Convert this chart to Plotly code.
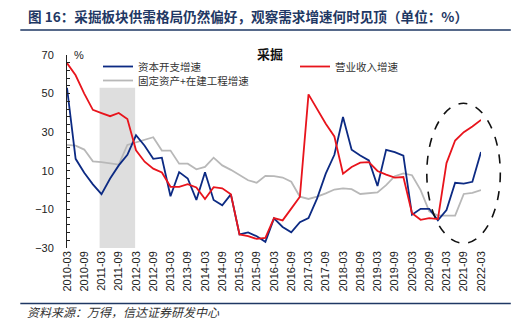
import plotly.graph_objects as go

# ---------------- data ----------------
quarters = [f"{y}-{m:02d}" for y in range(2010, 2023) for m in (3, 6, 9, 12)][:49]
tick_labels = quarters[::2]

capex_growth = [53.0, 16.2, 9.0, 3.0, -2.1, 6.0, 12.8, 18.3, 28.4, 23.0, 16.2, 16.8,
                -3.2, 9.3, 6.0, -5.1, 9.2, -5.1, -7.9, -2.2, -23.0, -21.9, -23.9, -26.8,
                -14.7, -19.1, -21.9, -16.6, -14.5, -4.3, 8.5, 18.3, 37.9, 20.9, 17.9, 15.4,
                2.1, 20.9, 19.7, 17.9, -12.8, -9.7, -9.7, -15.7, -10.3, 3.8, 3.4, 4.3, 19.7]

revenue_growth = [65.8, 59.5, 50.0, 41.6, 39.9, 38.3, 40.0, 36.8, 20.6, 14.7, 11.1, 9.1,
                  1.7, 1.7, 3.1, 1.4, -4.6, 1.5, 0.9, -2.2, -23.0, -23.9, -25.3, -24.8,
                  -14.5, -15.7, -9.6, -3.4, 49.6, 42.1, 34.4, 27.8, 8.5, 12.0, 14.2, 14.5,
                  9.9, 8.0, 6.5, 6.8, -12.0, -15.4, -14.5, -15.0, 14.0, 25.7, 30.0, 33.0, 36.4]

fixed_asset_growth = [23.4, 23.0, 21.0, 14.9, 14.5, 13.8, 13.2, 23.4, 24.8, 26.0, 27.4, 20.5,
                      20.5, 13.7, 13.7, 10.8, 12.0, 16.8, 12.8, 10.5, 7.7, 5.1, 3.8, 7.4,
                      7.2, 6.5, 4.3, -3.4, -4.6, -3.4, -1.7, 0.3, 0.9, 0.5, -2.0, -1.7,
                      -1.2, 2.6, 7.2, 8.7, 7.7, 0.0, -11.0, -13.2, -13.2, -13.2, -2.0, -1.4, 0.0]

# ---------------- layout geometry (px) ----------------
W, H = 528, 330
L, R, T, B = 66.7, 47.3, 54.5, 81.7
PW, PH = W - L - R, H - T - B


def px(xp):
    return (xp - L) / PW


def py(yp):
    return (H - B - yp) / PH


BLUE = "#0c2a83"
RED = "#e8141c"
GRAY = "#b8b8b8"
NAVY = "#1f3864"
LEGEND_FONT = dict(family="Noto Sans CJK SC", size=10.5, color="#333333")

fig = go.Figure()
fig.add_trace(go.Scatter(x=quarters, y=fixed_asset_growth, mode="lines", name="固定资产+在建工程增速",
                         line=dict(color=GRAY, width=1.8), legend="legend2"))
fig.add_trace(go.Scatter(x=quarters, y=capex_growth, mode="lines", name="资本开支增速",
                         line=dict(color=BLUE, width=1.8), legend="legend", legendrank=1))
fig.add_trace(go.Scatter(x=quarters, y=revenue_growth, mode="lines", name="营业收入增速",
                         line=dict(color=RED, width=1.8), legend="legend", legendrank=2))

shapes = [
    # shaded period
    dict(type="rect", xref="x", yref="y", x0=3.78, x1=7.9, y0=-30, y1=53,
         fillcolor="#dedede", line=dict(width=0), layer="below"),
    # dashed ellipse
    dict(type="circle", xref="paper", yref="paper", x0=px(426.5), x1=px(500), y0=py(243.5), y1=py(103),
         line=dict(color="#111111", width=1.6, dash="dash")),
]

annotations = [
    dict(text="<b>图 16：采掘板块供需格局仍然偏好，观察需求增速何时见顶（单位：%）</b>",
         xref="paper", yref="paper", x=px(247.5), y=py(15), xanchor="center", yanchor="middle",
         showarrow=False, font=dict(family="Noto Sans CJK SC", size=13.6, color=NAVY)),
    dict(text="资料来源：万得，信达证券研发中心", xref="paper", yref="paper", x=px(123.5), y=py(312),
         xanchor="center", yanchor="middle", showarrow=False,
         font=dict(family="Noto Sans CJK SC", size=12, color="#333333", style="italic")),
    dict(text="<b>采掘</b>", xref="paper", yref="paper", x=px(270), y=py(53), xanchor="center",
         yanchor="middle", showarrow=False, font=dict(family="Noto Sans CJK SC", size=13, color="#111111")),
    dict(text="%", xref="paper", yref="paper", x=px(79), y=py(55), xanchor="center", yanchor="middle",
         showarrow=False, font=dict(family="Liberation Sans", size=11, color="#222222")),
]

# horizontal rules (title separator and footer separator) drawn as arrow-less annotation lines
for rule_y in (29.3, 304.0):
    annotations.append(dict(text="", xref="paper", yref="paper", x=px(20), y=py(rule_y),
                            axref="pixel", ayref="pixel", ax=492, ay=0,
                            showarrow=True, arrowhead=0, arrowwidth=1.5, arrowcolor=NAVY,
                            standoff=0, startstandoff=0))

fig.update_layout(
    width=W, height=H,
    margin=dict(l=L, r=R, t=T, b=B, autoexpand=False),
    paper_bgcolor="white", plot_bgcolor="white",
    shapes=shapes, annotations=annotations,
    showlegend=True,
    legend=dict(orientation="h", xref="container", yref="container",
                x=98 / W, y=1 - 52 / H, xanchor="left", yanchor="top",
                entrywidth=152, entrywidthmode="pixels", itemwidth=30,
                font=LEGEND_FONT, bgcolor="rgba(0,0,0,0)", traceorder="normal"),
    legend2=dict(orientation="h", xref="container", yref="container",
                 x=98 / W, y=1 - 66 / H, xanchor="left", yanchor="top",
                 itemwidth=30, font=LEGEND_FONT, bgcolor="rgba(0,0,0,0)"),
    xaxis=dict(type="category", categoryorder="array", categoryarray=quarters,
               range=[0, 48], tickmode="array", tickvals=tick_labels, ticktext=tick_labels,
               tickangle=-90, ticks="", showline=False, showgrid=False, zeroline=False,
               tickfont=dict(family="Liberation Sans", size=11, color="#222222")),
    xaxis2=dict(overlaying="x", anchor="free", position=0.3, side="bottom", type="linear",
                range=[0, 48], tickmode="array", tickvals=list(range(0, 49, 2)),
                ticks="inside", ticklen=3, tickwidth=1, tickcolor="#404040",
                showticklabels=False, showline=True, linecolor="#404040", linewidth=1.8,
                showgrid=False, zeroline=False),
    yaxis=dict(range=[-30, 70], tickmode="array", tickvals=[-30, -10, 10, 30, 50, 70],
               ticktext=["\u221230", "\u221210", "10", "30", "50", "70"],
               ticks="inside", ticklen=3, tickcolor="#222222", showline=True,
               linecolor="#222222", linewidth=1, showgrid=False, zeroline=False,
               ticklabelstandoff=10,
               minor=dict(dtick=4, tick0=-30, ticks="inside", ticklen=3, tickcolor="#222222", showgrid=False),
               tickfont=dict(family="Liberation Sans", size=11, color="#222222")),
)

fig.write_html("out.html")
